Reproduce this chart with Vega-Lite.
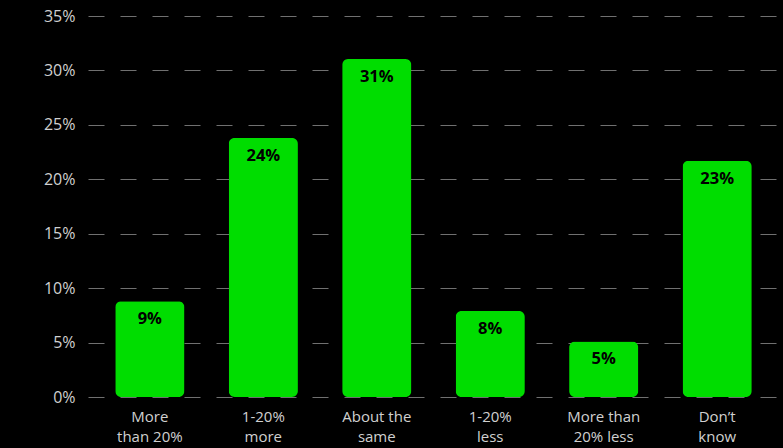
{
  "$schema": "https://vega.github.io/schema/vega-lite/v6.json",
  "width": 691,
  "height": 381,
  "autosize": "none",
  "padding": {"left": 88, "top": 16, "right": 4, "bottom": 51},
  "background": "#000000",
  "config": {"view": {"stroke": null}},
  "data": {
    "values": [
      {"category": "More|than 20%", "value": 8.8, "label": "9%"},
      {"category": "1-20%|more", "value": 23.8, "label": "24%"},
      {"category": "About the|same", "value": 31.05, "label": "31%"},
      {"category": "1-20%|less", "value": 7.9, "label": "8%"},
      {"category": "More than|20% less", "value": 5.1, "label": "5%"},
      {"category": "Don’t|know", "value": 21.7, "label": "23%"}
    ]
  },
  "encoding": {
    "x": {
      "field": "category",
      "type": "nominal",
      "sort": null,
      "scale": {"paddingInner": 0.39, "paddingOuter": 0.24},
      "axis": {
        "title": null,
        "labelAngle": 0,
        "domain": false,
        "ticks": false,
        "labelExpr": "split(datum.value, '|')",
        "labelFont": "Open Sans",
        "labelFontSize": 15,
        "labelColor": "#d0d0d0",
        "labelLineHeight": 20,
        "labelBaseline": "top",
        "labelPadding": 12
      }
    },
    "y": {
      "field": "value",
      "type": "quantitative",
      "scale": {"domain": [0, 35], "nice": false},
      "axis": {
        "title": null,
        "values": [0, 5, 10, 15, 20, 25, 30, 35],
        "labelExpr": "datum.value + '%'",
        "domain": false,
        "ticks": false,
        "labelFont": "Open Sans",
        "labelFontSize": 16,
        "labelColor": "#d0d0d0",
        "labelPadding": 13,
        "grid": true,
        "gridColor": "#707070",
        "gridDash": [16, 16],
        "gridWidth": 1.2
      }
    }
  },
  "layer": [
    {
      "mark": {"type": "bar", "color": "#00dd00", "cornerRadius": 6}
    },
    {
      "mark": {
        "type": "text",
        "color": "#000000",
        "font": "Open Sans",
        "fontWeight": "bold",
        "fontSize": 16.5,
        "baseline": "middle",
        "dy": 18
      },
      "encoding": {"text": {"field": "label"}}
    }
  ]
}
